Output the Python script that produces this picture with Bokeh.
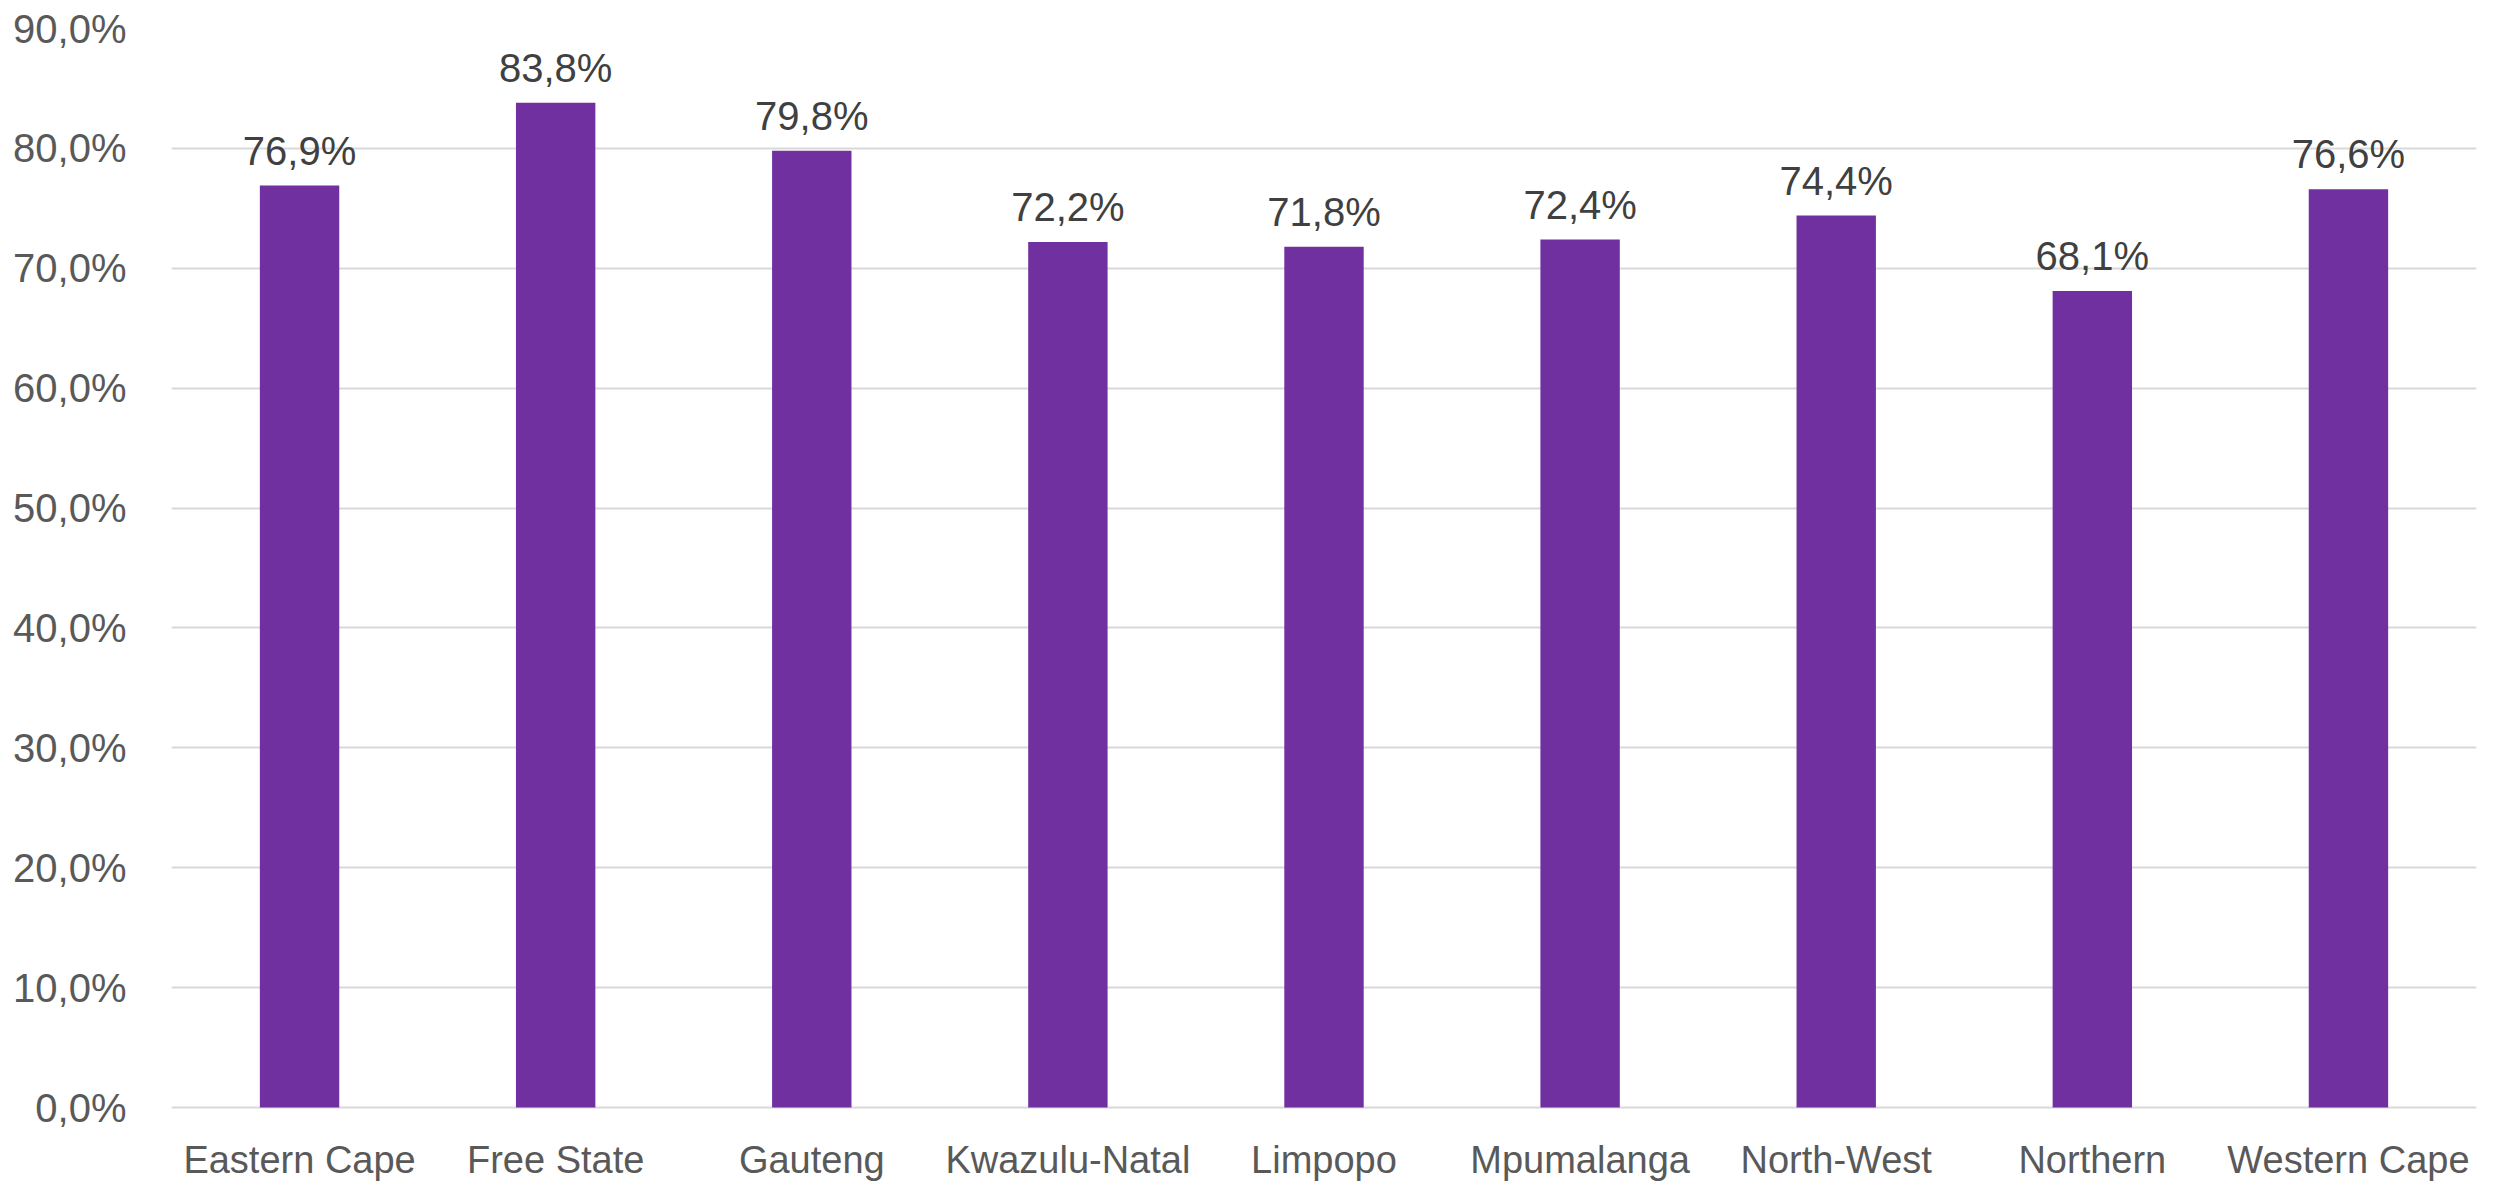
from bokeh.plotting import figure
from bokeh.models import ColumnDataSource, LabelSet, FactorRange, Range1d, FixedTicker, CustomJSTickFormatter
from bokeh.core.properties import value
from bokeh.embed import file_html
from bokeh.resources import INLINE

provinces = ["Eastern Cape", "Free State", "Gauteng", "Kwazulu-Natal", "Limpopo",
             "Mpumalanga", "North-West", "Northern", "Western Cape"]
rates = [76.9, 83.8, 79.8, 72.2, 71.8, 72.4, 74.4, 68.1, 76.6]
y_ticks = [0, 10, 20, 30, 40, 50, 60, 70, 80, 90]

labels = [f"{v:.1f}".replace(".", ",") + "%" for v in rates]
src = ColumnDataSource(dict(x=provinces, y=rates, lab=labels, zero=[0] * len(rates)))

FONT = "Liberation Sans"
FS = "40px"

# frame extends below 0 so the category names sit inside it (12 px per unit)
p = figure(width=2487, height=1190, x_range=FactorRange(*provinces, range_padding=0),
           y_range=Range1d(-83 / 12, 90), output_backend="svg", toolbar_location=None)
p.min_border_left = 171
p.min_border_right = 11
p.min_border_top = 28
p.min_border_bottom = 0
p.outline_line_color = None

p.vbar(x="x", top="y", bottom=0, width=0.31, source=src, fill_color="#7030A0", line_color=None)

labs = LabelSet(x="x", y="y", text="lab", source=src, text_align="center",
                text_baseline="alphabetic", y_offset=21, text_color="#404040",
                text_font=value(FONT), text_font_size=value(FS))
p.add_layout(labs)

cat_labs = LabelSet(x="x", y="zero", text="x", source=src, text_align="center",
                    text_baseline="alphabetic", y_offset=-65, text_color="#595959",
                    text_font=value(FONT), text_font_size=value("38px"))
p.add_layout(cat_labs)

p.yaxis.ticker = FixedTicker(ticks=y_ticks)
p.yaxis.formatter = CustomJSTickFormatter(code="return tick.toFixed(1).replace('.', ',') + '%';")
p.yaxis.axis_line_color = None
p.yaxis.major_tick_line_color = None
p.yaxis.minor_tick_line_color = None
p.yaxis.major_label_text_font = FONT
p.yaxis.major_label_text_font_size = FS
p.yaxis.major_label_text_color = "#595959"
p.yaxis.major_label_standoff = 39

p.xaxis.visible = False

p.xgrid.grid_line_color = None
p.ygrid.grid_line_color = "#d9d9d9"
p.ygrid.grid_line_width = 2

open("out.html", "w").write(file_html(p, INLINE))
